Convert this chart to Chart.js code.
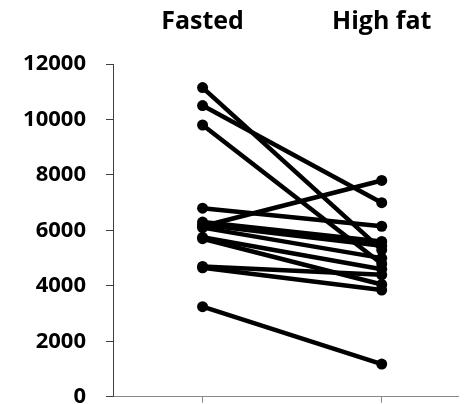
<!DOCTYPE html>
<html>
<head>
<meta charset="utf-8">
<script src="https://cdn.jsdelivr.net/npm/chart.js@4/dist/chart.umd.min.js"></script>
<style>
  html, body { margin: 0; padding: 0; background: #fff; overflow: hidden; }
  #wrap { position: relative; width: 464px; height: 430px; }
</style>
</head>
<body>
<div id="wrap"><canvas id="c"></canvas></div>
<script>
// Conditions (top labels) and their x positions
const categories = ['Fasted', 'High fat'];
const categoryX = [1, 2];
// Paired values per subject
const fasted  = [11150, 10500, 9800, 6800, 6150, 6300, 6200, 6100, 5750, 5700, 4700, 4650, 3250];
const highFat = [5300,  7000,  4800, 6150, 7800, 5600, 5450, 5000, 4600, 4050, 4400, 3850, 1180];
// Y axis ticks
const yTicks = [0, 2000, 4000, 6000, 8000, 10000, 12000];

const datasets = fasted.map((v, i) => ({
  data: [{ x: categoryX[0], y: v }, { x: categoryX[1], y: highFat[i] }],
  showLine: true,
  borderColor: '#000',
  backgroundColor: '#000',
  borderWidth: 4.5,
  pointRadius: 5.5,
  pointBorderWidth: 0,
  pointBackgroundColor: '#000',
  pointHoverRadius: 5.5
}));

const FONT = '"Open Sans", sans-serif';

new Chart(document.getElementById('c'), {
  type: 'scatter',
  data: { datasets },
  options: {
    responsive: true,
    maintainAspectRatio: false,
    animation: false,
    layout: { padding: 0 },
    plugins: { legend: { display: false }, tooltip: { enabled: false } },
    scales: {
      x: {
        type: 'linear',
        position: 'bottom',
        min: 0.5,
        max: 2.4286,
        afterBuildTicks: s => { s.ticks = categoryX.map(v => ({ value: v })); },
        afterFit: s => { s.height = 8; },
        ticks: { display: false },
        grid: { drawOnChartArea: false, drawTicks: true, tickLength: 6, color: '#888888', lineWidth: 1 },
        border: { display: true, color: '#888888', width: 1 }
      },
      xTop: {
        type: 'linear',
        position: 'top',
        min: 0.5,
        max: 2.4286,
        afterBuildTicks: s => { s.ticks = categoryX.map(v => ({ value: v })); },
        afterFit: s => { s.height = 64; },
        ticks: {
          callback: v => categories[categoryX.indexOf(v)] || '',
          color: '#000',
          font: { family: FONT, size: 25, weight: 'bold' },
          padding: 27,
          maxRotation: 0
        },
        grid: { display: false, drawTicks: false },
        border: { display: false }
      },
      y: {
        min: 0,
        max: 12000,
        afterBuildTicks: s => { s.ticks = yTicks.map(v => ({ value: v })); },
        afterFit: s => { s.width = 113; },
        ticks: {
          callback: v => String(v),
          color: '#000',
          font: { family: FONT, size: 22, weight: 'bold' },
          padding: 20
        },
        grid: { drawOnChartArea: false, drawTicks: true, tickLength: 7, color: '#404040', lineWidth: 1 },
        border: { display: true, color: '#404040', width: 1 }
      }
    }
  }
});
</script>
</body>
</html>
